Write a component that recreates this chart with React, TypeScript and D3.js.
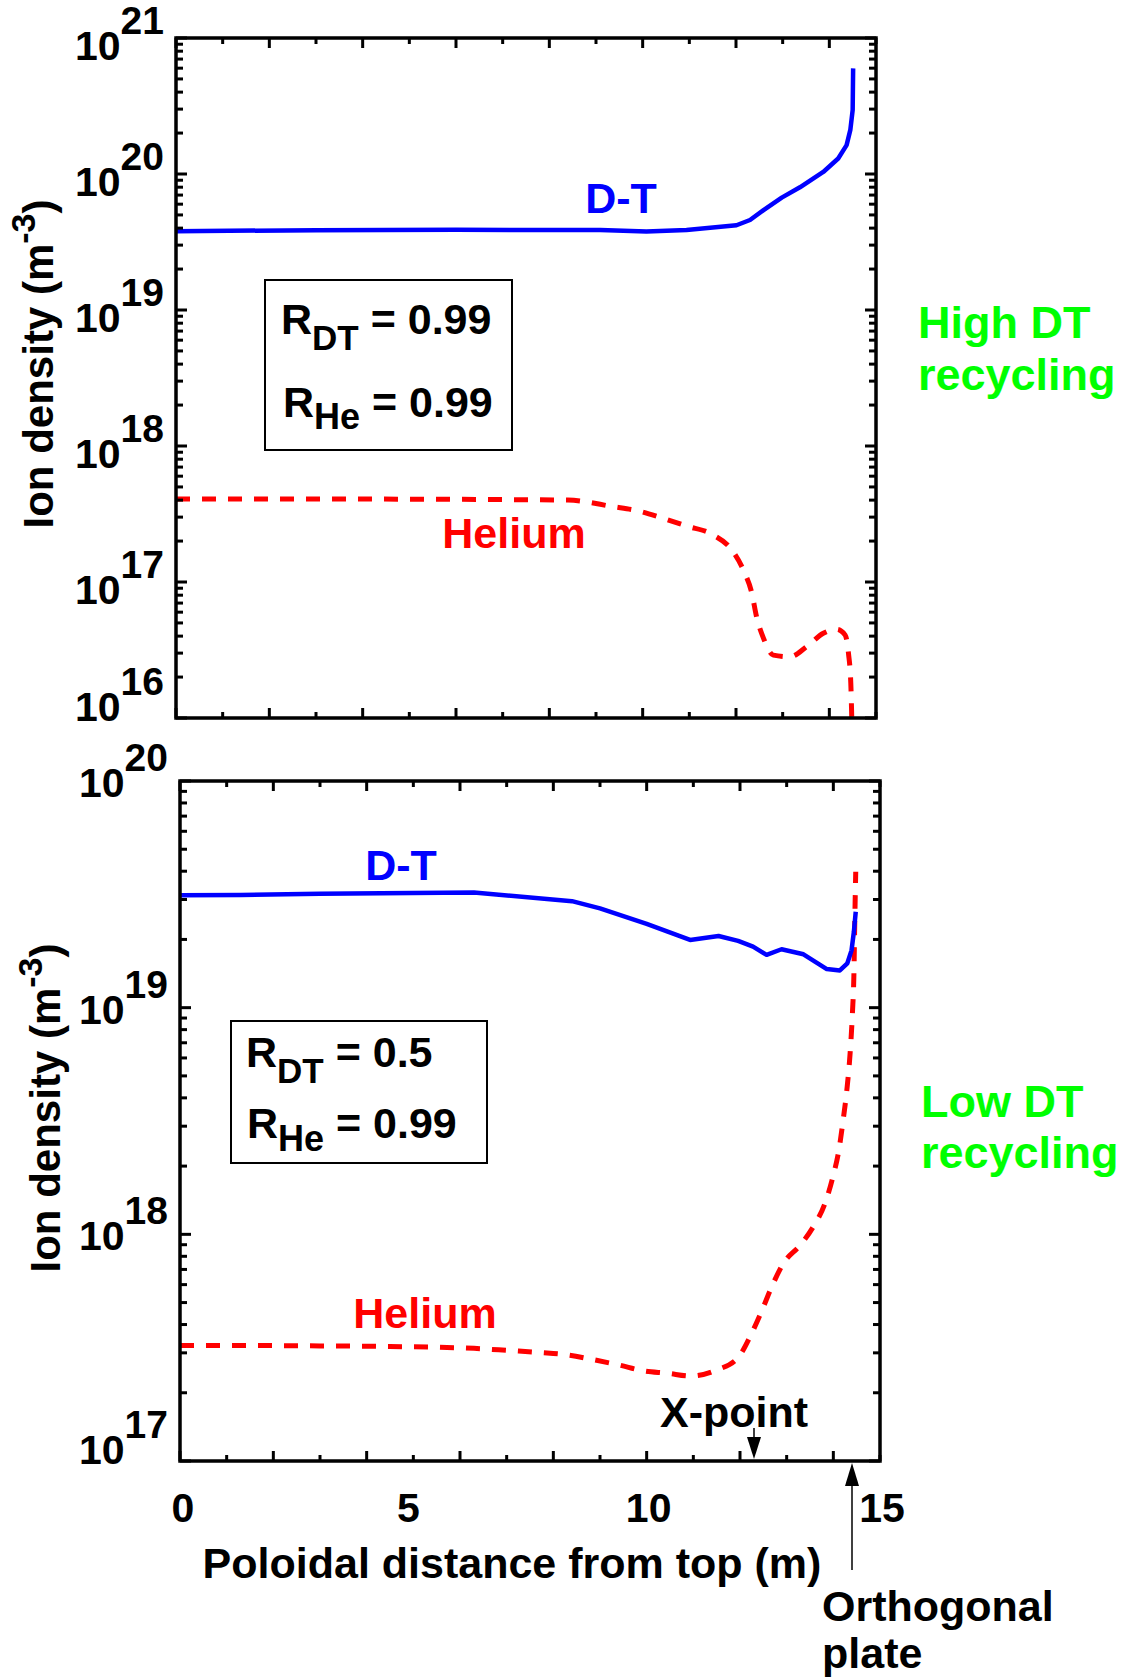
import React from 'react';
import * as d3 from 'd3';

// --- data (x in m, density in m^-3) ---
const topDTx = [0, 3, 6, 9.09, 10.08, 10.94, 12.01, 12.3, 12.59, 12.98, 13.37, 13.87, 14.19, 14.37, 14.45, 14.5, 14.51];
const topDTy = [3.8e19, 3.86e19, 3.89e19, 3.87e19, 3.77e19, 3.87e19, 4.2e19, 4.59e19, 5.43e19, 6.7e19, 7.98e19, 1.035e20, 1.3e20, 1.63e20, 2.11e20, 2.96e20, 5.98e20];

const topHeX = [0, 4, 8.4, 9.37, 9.91, 10.44, 10.94, 11.51, 11.91, 12.16, 12.34, 12.44, 12.59, 12.8, 13.16, 13.51, 13.87, 14.16, 14.34, 14.41, 14.46, 14.48];
const topHeY = [4.07e17, 4.07e17, 4.0e17, 3.58e17, 3.33e17, 2.94e17, 2.58e17, 2.22e17, 1.72e17, 1.22e17, 8.26e16, 5.56e16, 3.85e16, 2.9e16, 2.82e16, 3.34e16, 4.2e16, 4.49e16, 4.07e16, 2.99e16, 1.8e16, 1.02e16];

const botDTx = [0, 1.3, 3, 6.3, 8.4, 9.0, 10.0, 10.93, 11.54, 11.96, 12.28, 12.57, 12.89, 13.36, 13.86, 14.14, 14.3, 14.39, 14.44, 14.48];
const botDTy = [3.13e19, 3.14e19, 3.18e19, 3.22e19, 2.95e19, 2.74e19, 2.34e19, 1.99e19, 2.07e19, 1.97e19, 1.86e19, 1.71e19, 1.81e19, 1.72e19, 1.48e19, 1.46e19, 1.57e19, 1.79e19, 2.16e19, 2.65e19];

const botHeX = [0, 1.5, 3, 4.5, 6.3, 7.07, 7.71, 8.3, 8.82, 9.41, 9.93, 10.44, 10.95, 11.5, 11.97, 12.25, 12.46, 12.68, 12.93, 13.29, 13.57, 13.82, 13.99, 14.13, 14.21, 14.29, 14.36, 14.41, 14.44, 14.46, 14.48];
const botHeY = [3.23e17, 3.23e17, 3.22e17, 3.2e17, 3.14e17, 3.07e17, 3.01e17, 2.94e17, 2.81e17, 2.65e17, 2.5e17, 2.44e17, 2.37e17, 2.52e17, 2.88e17, 3.66e17, 4.56e17, 5.87e17, 7.45e17, 8.97e17, 1.08e18, 1.37e18, 1.79e18, 2.43e18, 3.19e18, 4.34e18, 6.31e18, 9.55e18, 1.38e19, 2.45e19, 3.98e19];

const xTickLabels = [0, 5, 10, 15];
const xPointPos = 12.3;
const platePos = 14.4;

const FONT = '"Liberation Sans", Arial, Helvetica, sans-serif';
const BLUE = '#0000ff';
const RED = '#ff0000';
const GREEN = '#00ff00';

type Panel = {
  left: number; top: number; width: number; height: number;
  yDomain: [number, number];
  labelOffset: number;
};

const topPanel: Panel = { left: 176, top: 38, width: 700, height: 680, yDomain: [1e16, 1e21], labelOffset: 22 };
const botPanel: Panel = { left: 180, top: 781, width: 700, height: 680, yDomain: [1e17, 1e20], labelOffset: 16 };

const makeScales = (p: Panel) => {
  const x = d3.scaleLinear().domain([0, 15]).range([p.left, p.left + p.width]);
  const y = d3.scaleLog().domain(p.yDomain).range([p.top + p.height, p.top]);
  return { x, y };
};

const isDecade = (t: number) => Math.abs(Math.log10(t) - Math.round(Math.log10(t))) < 1e-9;

const Frame: React.FC<{ p: Panel }> = ({ p }) => {
  const { x, y } = makeScales(p);
  const bottom = p.top + p.height;
  const right = p.left + p.width;
  const xt = x.ticks(15);
  const yt = y.ticks();
  return (
    <g>
      {xt.map(t => {
        const len = t % 2 === 0 ? 10 : 6;
        return (
          <g key={'x' + t}>
            <line x1={x(t)} x2={x(t)} y1={bottom} y2={bottom - len} stroke="#000" strokeWidth={3} />
            <line x1={x(t)} x2={x(t)} y1={p.top} y2={p.top + len} stroke="#000" strokeWidth={3} />
          </g>
        );
      })}
      {yt.map((t, i) => {
        const len = isDecade(t) ? 11 : 7;
        return (
          <g key={'y' + i}>
            <line x1={p.left} x2={p.left + len} y1={y(t)} y2={y(t)} stroke="#000" strokeWidth={3} />
            <line x1={right} x2={right - len} y1={y(t)} y2={y(t)} stroke="#000" strokeWidth={3} />
          </g>
        );
      })}
      <rect x={p.left} y={p.top} width={p.width} height={p.height} fill="none" stroke="#000" strokeWidth={3.5} />
      {yt.filter(isDecade).map(t => {
        const e = Math.round(Math.log10(t));
        const base = Math.min(y(t) + p.labelOffset, bottom + 3);
        return (
          <text key={'l' + e} x={p.left - 12} y={base} textAnchor="end" fontSize={41} fontWeight="bold" fontFamily={FONT}>
            10<tspan dy={-26} fontSize={39}>{e}</tspan>
          </text>
        );
      })}
    </g>
  );
};

const Series: React.FC<{ p: Panel; xs: number[]; ys: number[]; color: string; dashed?: boolean }> = ({ p, xs, ys, color, dashed }) => {
  const { x, y } = makeScales(p);
  const line = d3.line<number>()
    .x((d, i) => x(xs[i]))
    .y(d => y(d))
    .curve(dashed ? d3.curveMonotoneX : d3.curveLinear);
  return (
    <path d={line(ys) || ''} fill="none" stroke={color} strokeWidth={dashed ? 5 : 4.5}
      strokeDasharray={dashed ? '14,12' : undefined} strokeLinejoin="round" />
  );
};

const App: React.FC = () => {
  const bx = makeScales(botPanel).x;
  const xp = bx(xPointPos);
  const pp = bx(platePos);
  const bBottom = botPanel.top + botPanel.height;
  const txt = { fontWeight: 'bold' as const, fontFamily: FONT };

  return (
    <div style={{ position: 'absolute', left: 0, top: 0, background: '#fff' }}>
      <svg width={1126} height={1678} xmlns="http://www.w3.org/2000/svg">
        <rect width={1126} height={1678} fill="#fff" />

        {/* top panel */}
        <Series p={topPanel} xs={topDTx} ys={topDTy} color={BLUE} />
        <Series p={topPanel} xs={topHeX} ys={topHeY} color={RED} dashed />
        <Frame p={topPanel} />
        <text x={621} y={213} textAnchor="middle" fontSize={43} fill={BLUE} {...txt}>D-T</text>
        <text x={514} y={548} textAnchor="middle" fontSize={43} fill={RED} {...txt}>Helium</text>
        <rect x={265} y={280} width={247} height={170} fill="none" stroke="#000" strokeWidth={2} />
        <text x={281} y={334} fontSize={43} {...txt}>R<tspan dy={16} fontSize={35}>DT</tspan><tspan dy={-16} fontSize={43}> = 0.99</tspan></text>
        <text x={283} y={417} fontSize={43} {...txt}>R<tspan dy={12} fontSize={36}>He</tspan><tspan dy={-12} fontSize={43}> = 0.99</tspan></text>
        <text transform="translate(53,364) rotate(-90)" textAnchor="middle" fontSize={42} {...txt}>
          Ion density (m<tspan dy={-18} fontSize={34}>-3</tspan><tspan dy={18} fontSize={42}>)</tspan>
        </text>
        <text x={918} y={338} fontSize={45} fill={GREEN} {...txt}>High DT</text>
        <text x={918} y={390} fontSize={45} fill={GREEN} {...txt}>recycling</text>

        {/* bottom panel */}
        <Series p={botPanel} xs={botHeX} ys={botHeY} color={RED} dashed />
        <Series p={botPanel} xs={botDTx} ys={botDTy} color={BLUE} />
        <Frame p={botPanel} />
        <text x={401} y={880} textAnchor="middle" fontSize={43} fill={BLUE} {...txt}>D-T</text>
        <text x={425} y={1328} textAnchor="middle" fontSize={43} fill={RED} {...txt}>Helium</text>
        <rect x={231} y={1021} width={256} height={142} fill="none" stroke="#000" strokeWidth={2} />
        <text x={246} y={1067} fontSize={43} {...txt}>R<tspan dy={16} fontSize={35}>DT</tspan><tspan dy={-16} fontSize={43}> = 0.5</tspan></text>
        <text x={247} y={1138} fontSize={43} {...txt}>R<tspan dy={13} fontSize={36}>He</tspan><tspan dy={-13} fontSize={43}> = 0.99</tspan></text>
        <text transform="translate(60,1108) rotate(-90)" textAnchor="middle" fontSize={42} {...txt}>
          Ion density (m<tspan dy={-18} fontSize={34}>-3</tspan><tspan dy={18} fontSize={42}>)</tspan>
        </text>
        <text x={921} y={1117} fontSize={45} fill={GREEN} {...txt}>Low DT</text>
        <text x={921} y={1168} fontSize={45} fill={GREEN} {...txt}>recycling</text>

        {xTickLabels.map(t => (
          <text key={t} x={bx(t) + (t === 5 ? -5 : t === 0 ? 3 : 2)} y={1522} textAnchor="middle" fontSize={41} {...txt}>{t}</text>
        ))}
        <text x={512} y={1578} textAnchor="middle" fontSize={43} {...txt}>Poloidal distance from top (m)</text>

        {/* X-point marker */}
        <text x={734} y={1427} textAnchor="middle" fontSize={43} {...txt}>X-point</text>
        <line x1={xp} x2={xp} y1={1428} y2={1445} stroke="#000" strokeWidth={1.5} />
        <polygon points={`${xp - 7},${1437} ${xp + 7},${1437} ${xp},${bBottom - 2}`} fill="#000" />

        {/* orthogonal plate marker */}
        <line x1={pp} x2={pp} y1={1570} y2={1480} stroke="#000" strokeWidth={1.5} />
        <polygon points={`${pp - 7},${1486} ${pp + 7},${1486} ${pp},${bBottom + 2}`} fill="#000" />
        <text x={822} y={1621} fontSize={43} {...txt}>Orthogonal</text>
        <text x={822} y={1668} fontSize={43} {...txt}>plate</text>
      </svg>
    </div>
  );
};

export default App;
